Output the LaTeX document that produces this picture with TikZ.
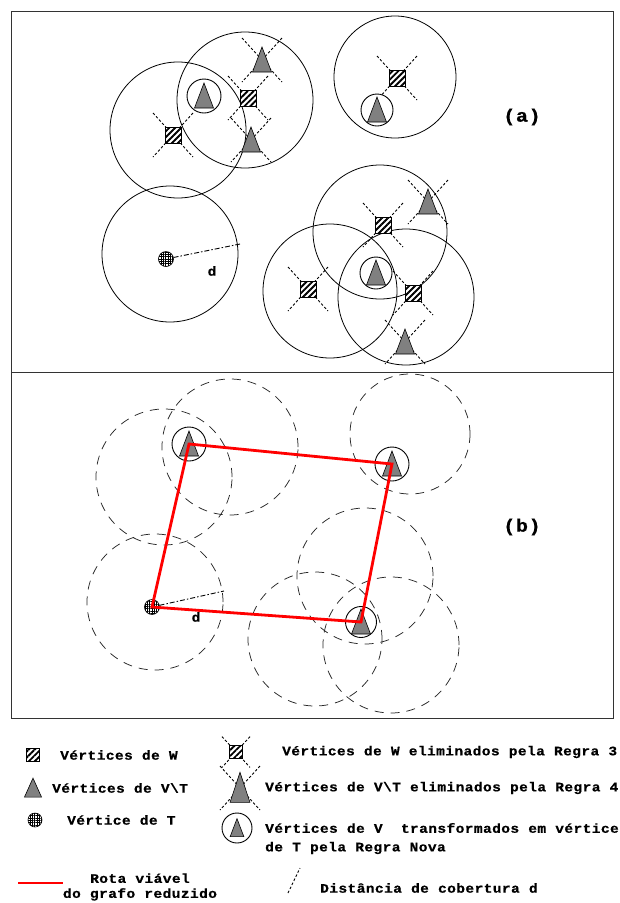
\documentclass[tikz,border=0pt]{standalone}
\usepackage{fontspec}
\newfontfamily\lmono{Liberation Mono}[LetterSpace=3, FakeStretch=1.12, BoldFeatures={FakeBold=0.5}]
\usetikzlibrary{patterns.meta}
\begin{document}
\begin{tikzpicture}[x=1pt,y=-1pt,
  vc/.style={draw, circle, inner sep=0pt, line width=0.8pt},
  dc/.style={draw=black!85, circle, inner sep=0pt, line width=0.75pt, dash pattern=on 9pt off 7pt},
  cv/.style={draw, circle, inner sep=0pt, line width=0.9pt, fill=white},
  sqn/.style={rectangle, inner sep=0pt, minimum size=16pt, fill=white,
    postaction={pattern={Lines[angle=45,distance=4.2pt,line width=1.9pt]}},
    postaction={draw, line width=0.8pt}},
  tvn/.style={circle, inner sep=0pt, minimum size=15pt, fill=white,
    postaction={pattern={Hatch[angle=0,distance=2.3pt,line width=0.45pt]}},
    postaction={draw, line width=0.6pt}},
  elim/.style={line width=0.9pt, dash pattern=on 2.5pt off 2pt},
  dline/.style={line width=0.9pt, dash pattern=on 5pt off 2pt on 1.5pt off 2pt},
  route/.style={red, line width=2.8pt, line join=miter},
  txt/.style={font=\lmono\bfseries\fontsize{13}{15}\selectfont, inner sep=0pt, anchor=west},
  lbl/.style={font=\lmono\bfseries\fontsize{18}{20}\selectfont, inner sep=0pt},
  tri/.pic={\filldraw[fill=black!50, line width=0.6pt] (0,-13) -- (9.5,12) -- (-9.5,12) -- cycle;},
  xm/.pic={\draw[elim] (-20,-22) -- (20,22) (20,-22) -- (-20,22);},
]
\useasboundingbox (0,0) rectangle (619,903);
% frame
\draw[line width=0.9pt, black!80] (11,11) rectangle (613,718);
\draw[line width=0.9pt, black!80] (11,372) -- (613,372);

% ---------------- (a)
\node[vc, minimum size=136pt] (cA) at (178,130) {};
\node[vc, minimum size=136pt] (cB) at (245,100) {};
\node[vc, minimum size=122pt] (cC) at (395,77) {};
\node[vc, minimum size=136pt] (cD) at (170,254) {};
\node[vc, minimum size=134pt] (cE) at (380,232) {};
\node[vc, minimum size=134pt] (cF) at (330,291) {};
\node[vc, minimum size=136pt] (cG) at (406,297) {};

\coordinate (w1) at (173,135);
\coordinate (w2) at (248,98);
\coordinate (w3) at (397,78);
\coordinate (w4) at (383,225);
\coordinate (w5) at (308,289);
\coordinate (w6) at (413,293);
\coordinate (e1) at (262,60);
\coordinate (e2) at (251,140);
\coordinate (e3) at (428,202);
\coordinate (e4) at (405,342);
\foreach \p in {w1,w2,w3,w4,w5,w6,e1,e2,e3,e4} {\pic at (\p) {xm};}

\node[cv, minimum size=34pt] (n1) at (204,96) {};
\node[cv, minimum size=32pt] (n2) at (377,110) {};
\node[cv, minimum size=32pt] (n3) at (376,273) {};
\foreach \p in {n1,n2,n3,e1,e2,e3,e4} {\pic at (\p) {tri};}
\foreach \p in {w1,w2,w3,w4,w5,w6} {\node[sqn] at (\p) {};}

\node[tvn] (ta) at (166,259) {};
\coordinate (da) at (240,244);
\draw[dline] (ta) -- (da);
\node[txt, anchor=center] (dla) at (212,271) {d};
\node[lbl] (la) at (522,117) {(a)};

% ---------------- (b)
\node[dc, minimum size=136pt] (bA) at (164,477) {};
\node[dc, minimum size=136pt] (bB) at (230,447) {};
\node[dc, minimum size=120pt] (bC) at (410,434) {};
\node[dc, minimum size=136pt] (bD) at (155,602) {};
\node[dc, minimum size=136pt] (bE) at (365,576) {};
\node[dc, minimum size=134pt] (bF) at (315,639) {};
\node[dc, minimum size=136pt] (bG) at (391,645) {};

\node[cv, minimum size=34pt] (p1) at (189,444) {};
\node[cv, minimum size=34pt] (p2) at (392,464) {};
\node[cv, minimum size=31pt] (p3) at (361,622) {};
\foreach \p in {p1,p2,p3} {\pic at (\p) {tri};}
\node[tvn] (tb) at (152,607) {};
\coordinate (db) at (224,591);
\draw[dline] (tb) -- (db);
\node[txt, anchor=center] (dlb) at (196,617) {d};
\draw[route] (tb.center) -- (p1.center) -- (p2.center) -- (p3.center) -- cycle;
\node[lbl] (lb) at (522,527) {(b)};

% ---------------- legend
\node[sqn, minimum size=13pt] (lw) at (33,755) {};
\node[txt] (tw) at (60,755) {Vértices de W};
\coordinate (lv) at (33,788);
\pic[xscale=0.9, yscale=0.76] at (lv) {tri};
\node[txt] (tv) at (52,788) {Vértices de V\textbackslash T};
\node[tvn, minimum size=14pt] (lt) at (35,820) {};
\node[txt] (tt) at (67,820) {Vértice de T};
\coordinate (r1) at (18,883);
\coordinate (r2) at (63,883);
\draw[route] (r1) -- (r2);
\node[txt, anchor=center, align=center] (tr) at (140,887) {Rota viável\\do grafo reduzido};

\coordinate (lx1) at (236,752);
\pic[scale=0.7] at (lx1) {xm};
\node[sqn, minimum size=13pt] (lxw) at (lx1) {};
\node[txt] (tx1) at (282,752) {Vértices de W eliminados pela Regra 3};
\coordinate (lx2) at (240,788);
\pic[scale=1.0] at (lx2) {xm};
\pic[xscale=1.05, yscale=1.2] at (lx2) {tri};
\node[txt] (tx2) at (265,788) {Vértices de V\textbackslash T eliminados pela Regra 4};
\node[cv, minimum size=30pt] (lc) at (237,828) {};
\pic[scale=0.72] at (lc) {tri};
\node[txt] (tx3) at (265,828) {Vértices de V\ \ transformados em vértice};
\node[txt] (tx4) at (265,848) {de T pela Regra Nova};
\coordinate (ld1) at (288,893);
\coordinate (ld2) at (300,868);
\draw[elim] (ld1) -- (ld2);
\node[txt] (tx5) at (320,888) {Distância de cobertura d};
\end{tikzpicture}
\end{document}
